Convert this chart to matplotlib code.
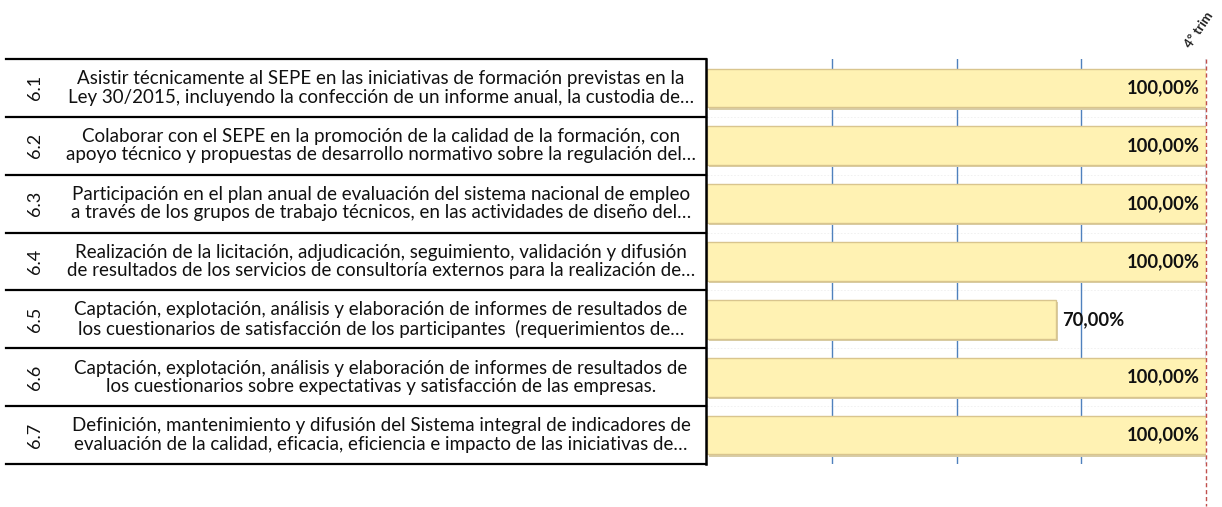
import matplotlib
matplotlib.use("Agg")
import matplotlib.pyplot as plt
from matplotlib.transforms import blended_transform_factory

codes = ["6.1", "6.2", "6.3", "6.4", "6.5", "6.6", "6.7"]
descriptions = [
    "Asistir técnicamente al SEPE en las iniciativas de formación previstas en la\nLey 30/2015, incluyendo la confección de un informe anual, la custodia de…",
    "Colaborar con el SEPE en la promoción de la calidad de la formación, con\napoyo técnico y propuestas de desarrollo normativo sobre la regulación del…",
    "Participación en el plan anual de evaluación del sistema nacional de empleo\na través de los grupos de trabajo técnicos, en las actividades de diseño del…",
    "Realización de la licitación, adjudicación, seguimiento, validación y difusión\nde resultados de los servicios de consultoría externos para la realización de…",
    "Captación, explotación, análisis y elaboración de informes de resultados de\nlos cuestionarios de satisfacción de los participantes  (requerimientos de…",
    "Captación, explotación, análisis y elaboración de informes de resultados de\nlos cuestionarios sobre expectativas y satisfacción de las empresas.",
    "Definición, mantenimiento y difusión del Sistema integral de indicadores de\nevaluación de la calidad, eficacia, eficiencia e impacto de las iniciativas de…",
]
values = [100, 100, 100, 100, 70, 100, 100]
value_labels = ["100,00%", "100,00%", "100,00%", "100,00%", "70,00%", "100,00%", "100,00%"]
xticks = [0, 25, 50, 75, 100]
target_label = "4º trim"

W, H = 1222, 507
fig = plt.figure(figsize=(W / 100, H / 100), dpi=100)
plt.rcParams['font.family'] = ['Lato', 'DejaVu Sans']

x0, x1 = 707, 1206
y0, y1 = 59, 464
ax = fig.add_axes([x0 / W, 1 - y1 / H, (x1 - x0) / W, (y1 - y0) / H])
n = len(values)
rowpx = (y1 - y0) / n
pxx = 100 / (x1 - x0)
ax.set_xlim(0, 100)
ax.set_ylim(n - 0.5, -0.5)
ax.axis('off')

ypos = list(range(n))
for k in range(1, n):
    ax.axhline(k - 0.5, color='#efefef', lw=0.6, ls=(0, (2, 2)), zorder=0)
for xt in xticks[1:-1]:
    ax.axvline(xt, color='#4F81BD', lw=1.0, zorder=1)
ax.axvline(100, color='#4F81BD', lw=1.0, zorder=1)

# shadow then bars
ax.barh([y + 0.04 for y in ypos], values, height=0.67, left=0.4, color='#D8CDA8', zorder=2)
ax.barh(ypos, values, height=0.67, color='#FFF2B3', edgecolor='#D9C58E', lw=1.0, zorder=3)

for y, v, lab in zip(ypos, values, value_labels):
    if v >= 90:
        ax.text(v - 1.2, y, lab, ha='right', va='center', fontsize=13.2, fontweight='bold', color='#111111', zorder=4)
    else:
        ax.text(v + 1.2, y, lab, ha='left', va='center', fontsize=13.2, fontweight='bold', color='#111111', zorder=4)

# target dashed line extending below axes
ax.plot([100, 100], [-0.5, n - 0.5 + 42 / rowpx], color='#C0504D', lw=1.0, ls=(0, (3, 2)),
        clip_on=False, zorder=5)
ax.text(100 - 13 * pxx, -0.5 - 9 / rowpx, target_label, rotation=56, ha='left', va='bottom', fontsize=9.5,
        fontweight='bold', color='#222222', rotation_mode='anchor', clip_on=False)

# table on the left
tr = blended_transform_factory(fig.transFigure, ax.transData)
tx_l, tx_r = 6 / W, 706 / W
for k in range(n + 1):
    fig.add_artist(plt.Line2D([tx_l, tx_r], [k - 0.5, k - 0.5], transform=tr, color='black', lw=1.6))
fig.add_artist(plt.Line2D([tx_r, tx_r], [-0.5, n - 0.5], transform=tr, color='black', lw=1.8))

for y, c, d in zip(ypos, codes, descriptions):
    fig.text(35 / W, y, c, transform=tr, rotation=90, ha='center', va='center', fontsize=13, color='#111111')
    fig.text(381 / W, y, d, transform=tr, ha='center', va='center', fontsize=13.5, color='#111111',
             linespacing=1.1, multialignment='center')

fig.savefig('out.png', dpi=100)
